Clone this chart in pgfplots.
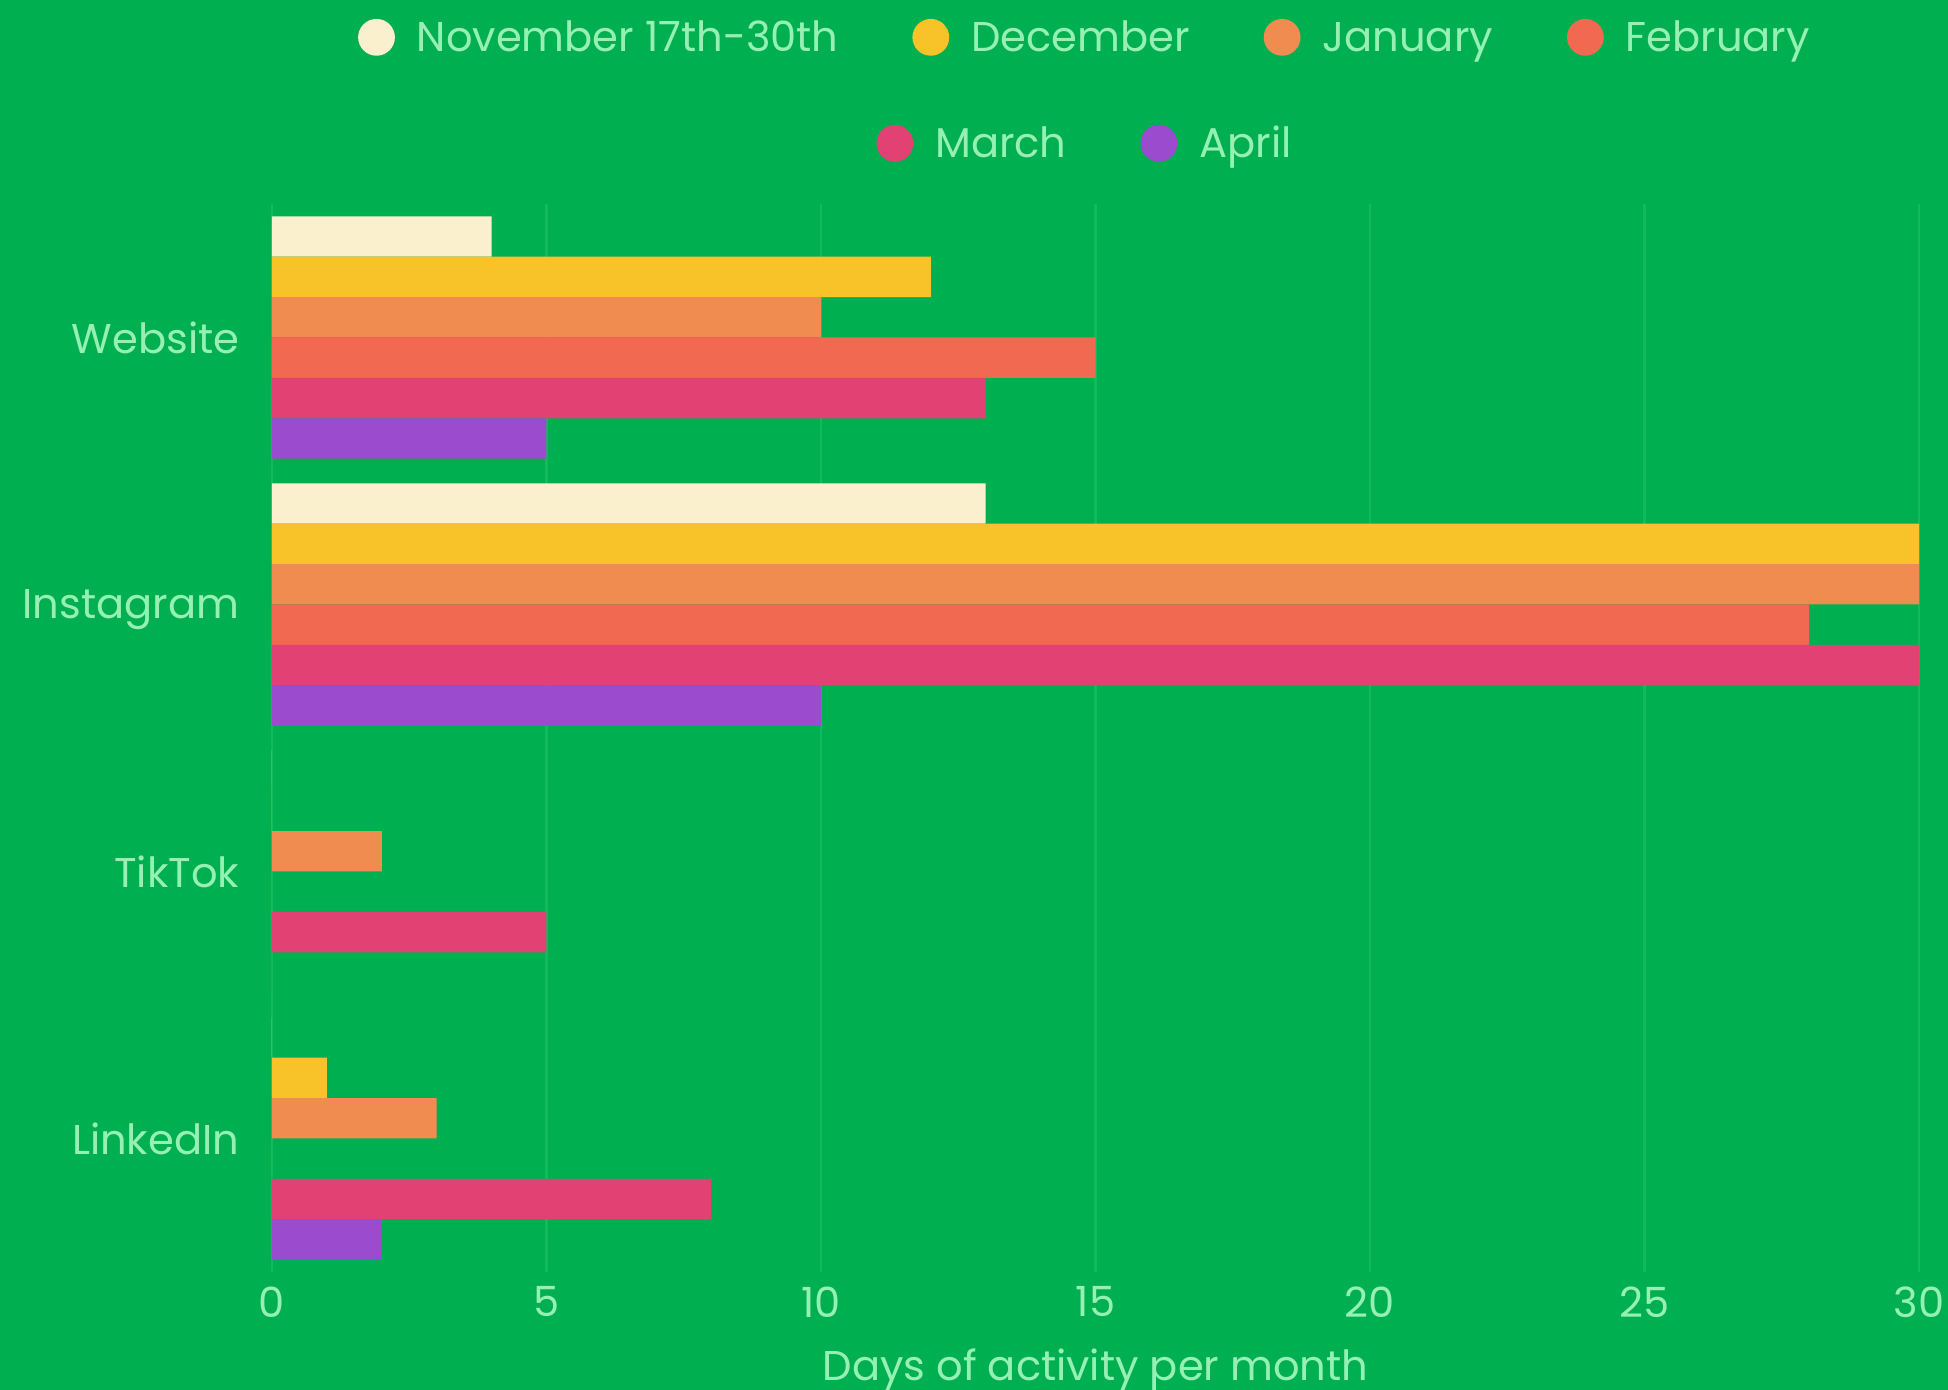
\documentclass[border=0pt]{standalone}
\usepackage{pgfplots}
\pgfplotsset{compat=1.18}
\usepackage{fontspec}
\setmainfont{Poppins}

\definecolor{bg}{RGB}{0,176,80}
\definecolor{txt}{RGB}{150,240,180}
\definecolor{grd}{RGB}{18,186,90}
\definecolor{cnov}{RGB}{250,240,205}
\definecolor{cdec}{RGB}{248,195,40}
\definecolor{cjan}{RGB}{240,140,80}
\definecolor{cfeb}{RGB}{240,105,80}
\definecolor{cmar}{RGB}{225,65,115}
\definecolor{capr}{RGB}{155,75,205}

\newcommand\fs{\fontsize{10.4}{12}\selectfont}
% legend item: dot + label
\newcommand\li[2]{\tikz[baseline={(0,-0.35em)}]\fill[#1] (0,0) circle (4.6pt);\hspace{5.5pt}#2}

\begin{document}
\begin{tikzpicture}
\path[use as bounding box, fill=bg] (-68pt,-29.5pt) rectangle (419pt,318pt);

\begin{axis}[
  at={(0,0)}, anchor=south west,
  width=411.75pt, height=267pt,
  scale only axis,
  xbar=0pt, bar width=10.1pt,
  xmin=0, xmax=30,
  ymin=-0.5, ymax=3.5,
  xtick={0,5,...,30},
  ytick={0,1,2,3},
  yticklabels={LinkedIn,TikTok,Instagram,Website},
  xmajorgrids,
  grid style={grd, line width=0.7pt},
  axis line style={draw=none},
  major tick length=0pt,
  tick label style={font=\fs, text=txt, inner sep=0pt},
  yticklabel style={xshift=-8pt, text depth=0pt},
  xticklabel style={yshift=-3.5pt},
  /pgf/number format/assume math mode=true,
  xlabel={Days of activity per month},
  xlabel style={font=\fs, text=txt, inner sep=0pt,
    at={(axis description cs:0.5,0)}, anchor=center, yshift=-24.5pt},
  every axis plot/.append style={draw=none},
]
% rows: LinkedIn (0), TikTok (1), Instagram (2), Website (3)
\addplot[fill=cnov, bar shift=25.25pt] coordinates {(0,0) (0,1) (13,2) (4,3)};
\addplot[fill=cdec, bar shift=15.15pt] coordinates {(1,0) (0,1) (30,2) (12,3)};
\addplot[fill=cjan, bar shift=5.05pt]  coordinates {(3,0) (2,1) (30,2) (10,3)};
\addplot[fill=cfeb, bar shift=-5.05pt] coordinates {(0,0) (0,1) (28,2) (15,3)};
\addplot[fill=cmar, bar shift=-15.15pt] coordinates {(8,0) (5,1) (30,2) (13,3)};
\addplot[fill=capr, bar shift=-25.25pt] coordinates {(2,0) (0,1) (10,2) (5,3)};
\end{axis}

\begin{scope}[every node/.style={text=txt, font=\fs, inner sep=0pt}]
\node at (203pt,307.8pt) {\li{cnov}{November 17th-30th}\hspace{18.5pt}\li{cdec}{December}\hspace{18.5pt}\li{cjan}{January}\hspace{18.5pt}\li{cfeb}{February}};
\node at (203pt,281.3pt) {\li{cmar}{March}\hspace{18.5pt}\li{capr}{April}};
\end{scope}
\end{tikzpicture}
\end{document}
